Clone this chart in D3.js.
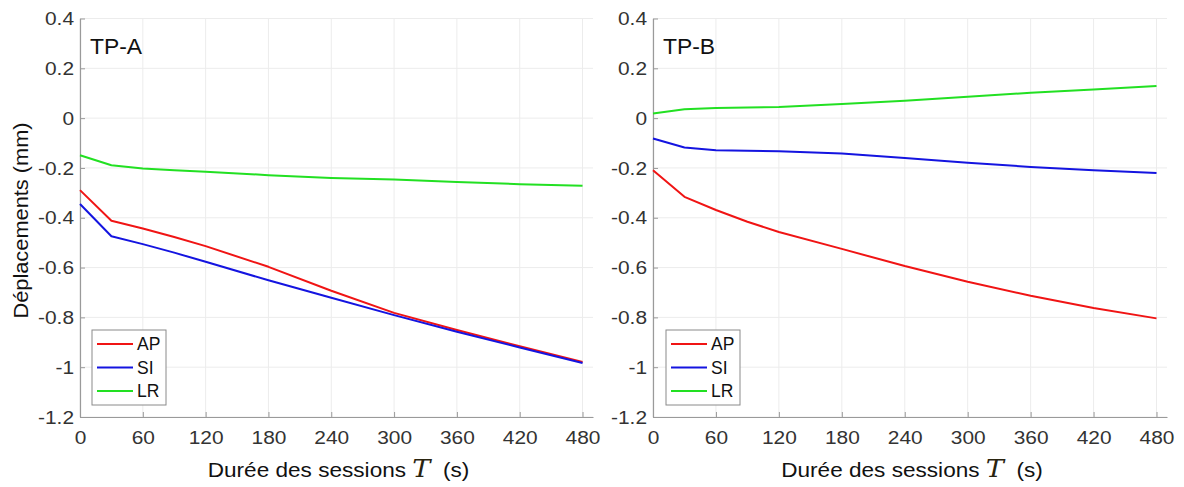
<!DOCTYPE html>
<html><head><meta charset="utf-8">
<script src="https://cdn.jsdelivr.net/npm/d3@7"></script>
<style>body{margin:0;background:#fff}svg{display:block}</style></head>
<body>
<svg id="c" width="1184" height="487"></svg>
<script>
// ---- data ----
const times = [0, 30, 60, 90, 120, 180, 240, 300, 360, 420, 480];
const xTicks = [0, 60, 120, 180, 240, 300, 360, 420, 480];
const yTicks = [-1.2, -1, -0.8, -0.6, -0.4, -0.2, 0, 0.2, 0.4];
const seriesNames = ["AP", "SI", "LR"];
const seriesColors = ["#f01414", "#1414e0", "#22e022"];

const apA = [-0.289, -0.412, -0.443, -0.477, -0.514, -0.597, -0.693, -0.782, -0.851, -0.916, -0.979];
const siA = [-0.345, -0.474, -0.506, -0.540, -0.577, -0.651, -0.721, -0.791, -0.858, -0.921, -0.983];
const lrA = [-0.149, -0.189, -0.202, -0.209, -0.215, -0.229, -0.240, -0.246, -0.256, -0.265, -0.272];

const apB = [-0.209, -0.316, -0.369, -0.416, -0.457, -0.525, -0.594, -0.657, -0.713, -0.762, -0.804];
const siB = [-0.082, -0.118, -0.129, -0.131, -0.133, -0.142, -0.160, -0.179, -0.196, -0.209, -0.220];
const lrB = [0.019, 0.036, 0.041, 0.043, 0.045, 0.057, 0.070, 0.086, 0.102, 0.115, 0.129];

const panels = [
  {title: "TP-A", series: [apA, siA, lrA], x0: 80, x1: 593, legX: 92},
  {title: "TP-B", series: [apB, siB, lrB], x0: 653, x1: 1167, legX: 666}
];

const svg = d3.select("#c");
const FONT = "'Liberation Sans', Arial, sans-serif";
const yTop = 18.5, yBot = 417;
const fmt = v => (Math.abs(v) < 1e-9 ? "0" : String(+v.toFixed(1)));
const TS = 1.1; // horizontal stretch of tick labels

panels.forEach(p => {
  const x = d3.scaleLinear().domain([0, 490]).range([p.x0, p.x1]);
  const y = d3.scaleLinear().domain([-1.2, 0.4]).range([yBot, yTop]);
  const g = svg.append("g");

  // grid
  g.selectAll(".gx").data(xTicks).join("line")
    .attr("x1", d => x(d)).attr("x2", d => x(d)).attr("y1", yTop).attr("y2", yBot)
    .attr("stroke", "#ececec").attr("stroke-width", 1);
  g.selectAll(".gy").data(yTicks).join("line")
    .attr("x1", p.x0).attr("x2", p.x1).attr("y1", d => y(d)).attr("y2", d => y(d))
    .attr("stroke", "#ececec").attr("stroke-width", 1);

  // axes
  const ax = g.append("g").attr("transform", `translate(0,${yBot})`)
    .call(d3.axisBottom(x).tickValues(xTicks).tickFormat(d3.format("d"))
      .tickSizeInner(-5).tickSizeOuter(0).tickPadding(14));
  const ay = g.append("g").attr("transform", `translate(${p.x0},0)`)
    .call(d3.axisLeft(y).tickValues(yTicks).tickFormat(fmt)
      .tickSizeInner(-5).tickSizeOuter(0).tickPadding(6));
  [ax, ay].forEach(a => {
    a.select(".domain").attr("stroke", "#9a9a9a").attr("stroke-width", 1.2);
    a.selectAll(".tick line").attr("stroke", "#9a9a9a");
    a.selectAll("text").attr("fill", "#333").style("font-family", FONT).style("font-size", "19px")
      .each(function () {
        const t = d3.select(this);
        const xv = +t.attr("x") || 0;
        t.attr("x", xv / TS).attr("transform", `scale(${TS},1)`);
      });
  });

  // lines
  const line = d3.line().x((d, i) => x(times[i])).y(d => y(d));
  p.series.forEach((s, k) => {
    g.append("path").datum(s).attr("d", line)
      .attr("fill", "none").attr("stroke", seriesColors[k]).attr("stroke-width", 2)
      .attr("stroke-linejoin", "round");
  });

  // title
  g.append("text").attr("transform", `translate(${p.x0 + 10},54) scale(1.04,1)`).text(p.title)
    .style("font-family", FONT).style("font-size", "22px").attr("fill", "#111");

  // x label
  const xl = g.append("text").attr("transform", `translate(${(p.x0 + p.x1) / 2 + 2},477) scale(1.13,1)`)
    .attr("text-anchor", "middle").style("font-family", FONT).style("font-size", "20px").attr("fill", "#111");
  xl.append("tspan").text("Durée des sessions ");
  xl.append("tspan").text("T").style("font-family", "'DejaVu Serif', 'Liberation Serif', serif")
    .style("font-style", "italic").style("font-size", "24px").attr("fill", "#2a2410");
  xl.append("tspan").text("\u00a0 (s)");

  // legend
  const lg = g.append("g").attr("transform", `translate(${p.legX},330)`);
  lg.append("rect").attr("width", 74).attr("height", 75).attr("fill", "#fff")
    .attr("stroke", "#8a8a8a").attr("stroke-width", 1);
  seriesNames.forEach((n, k) => {
    const yy = 14 + k * 23.5;
    lg.append("line").attr("x1", 5).attr("x2", 41).attr("y1", yy).attr("y2", yy)
      .attr("stroke", seriesColors[k]).attr("stroke-width", 2);
    lg.append("text").attr("x", 45).attr("y", yy).attr("dy", "0.35em").text(n)
      .style("font-family", FONT).style("font-size", "17.5px").attr("fill", "#111");
  });
});

// y label
svg.append("text").attr("transform", "translate(28,220.5) rotate(-90) scale(1.09,1)")
  .attr("text-anchor", "middle").text("Déplacements (mm)")
  .style("font-family", FONT).style("font-size", "20px").attr("fill", "#111");
</script>
</body></html>
